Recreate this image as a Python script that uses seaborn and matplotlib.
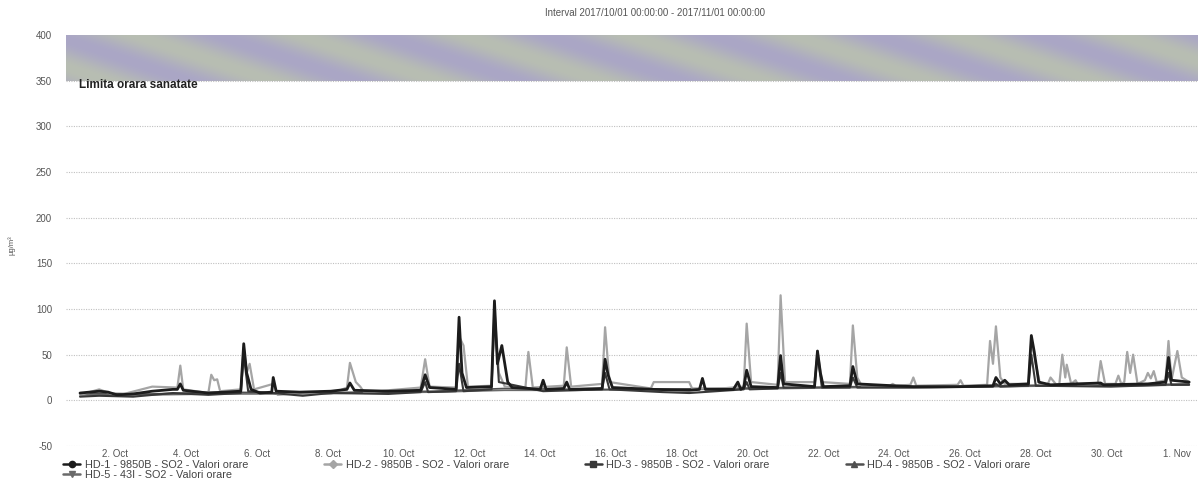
import numpy as np
import pandas as pd
import matplotlib
matplotlib.use("Agg")
import matplotlib.pyplot as plt
import matplotlib.dates as mdates
from matplotlib.colors import LinearSegmentedColormap
from matplotlib.lines import Line2D
import seaborn as sns

# ---------------- data (hours since 2017-10-01 00:00, value in µg/m³) ----------------
hd1_h = [0, 13, 19, 25, 36, 49, 63, 66, 68, 70, 87, 109, 111, 113, 116, 122, 130, 131, 133,
         149, 170, 181, 183, 186, 209, 231, 234, 237, 255, 257, 259, 262, 279, 281, 283, 286, 290,
         293, 304, 312, 314, 316, 328, 330, 332, 354, 356, 358, 361, 389, 413, 420, 422, 424, 443,
         446, 448, 450, 452, 455, 473, 475, 477, 498, 500, 502, 504, 522, 524, 527, 551, 565, 597,
         619, 621, 624, 627, 630, 643, 645, 647, 650, 658, 692, 694, 724, 736, 738, 740, 752]
hd1_v = [8, 10, 9, 6, 7, 10, 12, 12, 18, 11, 8, 10, 62, 30, 12, 8, 9, 25, 10,
         9, 10, 12, 19, 11, 10, 11, 28, 14, 12, 91, 30, 14, 15, 109, 40, 60, 20,
         14, 13, 12, 22, 12, 13, 20, 12, 13, 45, 28, 14, 12, 11, 12, 24, 12, 12,
         20, 12, 14, 33, 15, 14, 49, 18, 15, 54, 30, 15, 16, 37, 18, 16, 15, 15,
         16, 25, 18, 22, 17, 18, 71, 53, 20, 17, 19, 17, 18, 20, 47, 22, 20]

hd2_h = [0, 13, 25, 49, 66, 68, 70, 87, 89, 91, 93, 95, 109, 111, 113, 115, 118, 131, 134, 151,
         170, 181, 183, 187, 190, 193, 209, 231, 234, 237, 255, 257, 260, 263, 279, 281, 284, 288,
         302, 304, 307, 328, 330, 333, 354, 356, 359, 387, 389, 413, 415, 435, 450, 452, 455, 473,
         475, 478, 498, 500, 503, 522, 524, 527, 530, 549, 551, 553, 563, 565, 567, 595, 597, 599,
         615, 617, 619, 621, 624, 627, 643, 645, 648, 651, 656, 658, 662, 664, 666, 668, 669, 672,
         675, 677, 690, 692, 695, 702, 704, 706, 708, 710, 712, 714, 717, 722, 724, 726, 728, 730,
         736, 738, 740, 744, 747, 752]
hd2_v = [6, 12, 5, 15, 14, 38, 12, 8, 28, 22, 23, 10, 12, 58, 30, 40, 12, 18, 6, 8,
         7, 14, 41, 20, 15, 8, 11, 14, 45, 15, 14, 70, 60, 15, 16, 100, 30, 15,
         14, 53, 14, 16, 58, 15, 18, 80, 20, 13, 20, 20, 13, 13, 15, 84, 20, 17,
         115, 20, 20, 54, 20, 18, 82, 25, 16, 16, 18, 16, 17, 25, 16, 17, 22, 16,
         17, 65, 40, 81, 25, 18, 18, 65, 40, 17, 17, 25, 17, 18, 50, 25, 39, 18,
         22, 16, 18, 43, 18, 18, 27, 18, 20, 53, 30, 50, 18, 22, 30, 24, 32, 20,
         22, 65, 22, 54, 25, 20]

hd3_h = [0, 13, 36, 63, 87, 109, 111, 114, 131, 151, 170, 209, 231, 234, 236, 255, 257, 260, 279,
         281, 284, 314, 354, 356, 359, 395, 413, 450, 452, 454, 473, 475, 477, 498, 500, 503, 522,
         524, 527, 565, 619, 621, 624, 643, 645, 648, 699, 736, 738, 740, 752]
hd3_v = [4, 5, 4, 8, 6, 8, 50, 10, 8, 5, 8, 7, 9, 20, 9, 10, 40, 10, 12,
         95, 20, 10, 12, 30, 12, 9, 8, 12, 20, 12, 13, 30, 14, 14, 50, 14, 14,
         25, 14, 14, 15, 18, 15, 16, 50, 16, 15, 17, 30, 17, 17]

hd4_h = [0, 48, 96, 144, 192, 240, 288, 336, 384, 432, 480, 528, 576, 624, 672, 720, 752]
hd4_v = [8, 7, 9, 8, 9, 10, 13, 12, 12, 13, 14, 15, 15, 16, 17, 17, 18]

hd5_h = [0, 48, 96, 144, 192, 240, 288, 336, 384, 432, 480, 528, 576, 624, 672, 720, 752]
hd5_v = [6, 6, 7, 7, 8, 9, 11, 11, 12, 12, 13, 14, 14, 15, 16, 16, 17]

series_names = ["HD-1 - 9850B - SO2 - Valori orare",
                "HD-2 - 9850B - SO2 - Valori orare",
                "HD-3 - 9850B - SO2 - Valori orare",
                "HD-4 - 9850B - SO2 - Valori orare",
                "HD-5 - 43I - SO2 - Valori orare"]
y_ticks = [-50, 0, 50, 100, 150, 200, 250, 300, 350, 400]
band_low, band_high = 350, 400
band_label = "Limita orara sanatate"
title_text = "Interval 2017/10/01 00:00:00 - 2017/11/01 00:00:00"
unit_label = "µg/m³"

# ---------------- figure ----------------
sns.set_theme(style="white")
plt.rcParams["font.family"] = ["Liberation Sans", "DejaVu Sans"]

start = pd.Timestamp("2017-10-01 00:00")
fig = plt.figure(figsize=(11.98, 4.86), dpi=100)
ax = fig.add_axes([66 / 1198, 1 - 446 / 486, 1 - 66 / 1198, (446 - 35) / 486])

styles = [
    dict(color="#1c1c1c", lw=2.0, marker="o", z=6),
    dict(color="#a5a5a5", lw=1.6, marker="D", z=4),
    dict(color="#383838", lw=1.5, marker="s", z=5),
    dict(color="#505050", lw=1.2, marker="^", z=3),
    dict(color="#6a6a6a", lw=1.2, marker="v", z=3),
]
all_h = [hd1_h, hd2_h, hd3_h, hd4_h, hd5_h]
all_v = [hd1_v, hd2_v, hd3_v, hd4_v, hd5_v]

for idx in [4, 3, 1, 2, 0]:
    df = pd.DataFrame({"time": start + pd.to_timedelta(all_h[idx], unit="h"),
                       "value": all_v[idx]})
    st = styles[idx]
    sns.lineplot(data=df, x="time", y="value", ax=ax, color=st["color"],
                 linewidth=st["lw"], zorder=st["z"], legend=False)

# plot band with a scanned-looking stripe texture
x0 = mdates.date2num(start - pd.Timedelta(hours=12))
x1 = mdates.date2num(start + pd.Timedelta(hours=770))
gx, gy = np.meshgrid(np.linspace(0, 1, 400), np.linspace(0, 1, 30))
tex = 0.5 + 0.5 * np.sin(2 * np.pi * (gx * 7.0 + gy * 0.8))
cmap = LinearSegmentedColormap.from_list("band", ["#aaa6c6", "#b8beb2"])
ax.imshow(tex, extent=[x0, x1, band_low, band_high], aspect="auto", cmap=cmap,
          origin="lower", zorder=1, interpolation="bilinear")
ax.text(start - pd.Timedelta(hours=1), band_low - 5, band_label, fontsize=8.5,
        color="#222222", fontweight="bold", va="center", ha="left", zorder=7)

# axes styling
ax.set_ylim(-50, 400)
ax.set_xlim(start - pd.Timedelta(hours=9.5), start + pd.Timedelta(hours=758))
ax.set_yticks(y_ticks)
ax.set_yticklabels([str(t) for t in y_ticks])
for t in y_ticks:
    ax.axhline(t, color="#c0c0c0", lw=0.8, ls=(0, (1, 1.2)), zorder=0.5)
ticks = [start + pd.Timedelta(days=d) for d in range(1, 32, 2)]
ax.set_xticks(ticks)
ax.set_xticklabels([f"{t.day}. {t.strftime('%b')}" for t in ticks])
ax.tick_params(axis="x", labelsize=7, colors="#555555", length=0, pad=2.5)
ax.tick_params(axis="y", labelsize=7, colors="#555555", length=0, pad=10)
for sp in ax.spines.values():
    sp.set_visible(False)
ax.set_xlabel("")
ax.set_ylabel("")
ax.grid(False)

fig.text(12 / 1198, 1 - 245 / 486, unit_label, rotation=90, fontsize=5.5,
         color="#555555", ha="center", va="center")
fig.text(655 / 1198, 1 - 13 / 486, title_text, fontsize=7, color="#555555",
         ha="center", va="center")

# legend (column-major order so HD-5 sits under HD-1)
order = [0, 4, 1, 2, 3]
handles = [Line2D([0], [0], color=styles[i]["color"], lw=1.8, marker=styles[i]["marker"],
                  markersize=4.5) for i in order]
labels = [series_names[i] for i in order]
fig.legend(handles, labels, loc="upper left", bbox_to_anchor=(63 / 1198, 1 - 460 / 486),
           ncol=4, frameon=False, fontsize=7.8, handlelength=1.6, handletextpad=0.4,
           columnspacing=7.0, labelspacing=0.0, borderaxespad=0, borderpad=0,
           labelcolor="#444444")

fig.savefig("out.png", dpi=100)
